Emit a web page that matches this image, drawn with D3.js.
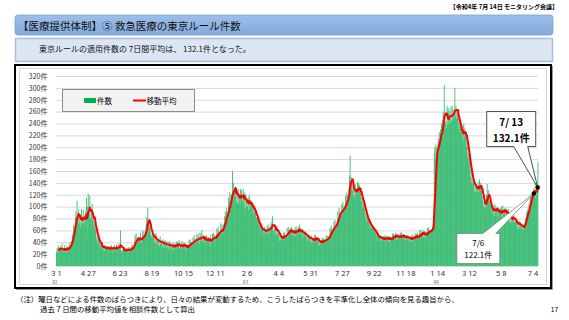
<!DOCTYPE html>
<html>
<head>
<meta charset="utf-8">
<script src="https://cdn.jsdelivr.net/npm/d3@7"></script>
<style>
body { margin: 0; background: #fff; }
svg { display: block; font-family: "Noto Sans CJK JP", "Noto Sans", sans-serif; }
</style>
</head>
<body>
<svg id="chart" width="569" height="320"></svg>
<script>
// daily Tokyo-rule cases, one row per week, from 2020-03-01 to 2022-07-13
var counts = [
  24, 30, 22, 35, 26, 31, 28,
  33, 21, 27, 38, 25, 23, 29,
  27, 35, 24, 30, 22, 34, 31,
  30, 26, 38, 28, 35, 41, 40,
  45, 52, 58, 70, 61, 66, 82,
  92, 78, 110, 85, 70, 95, 72,
  88, 65, 74, 96, 79, 70, 95,
  72, 85, 68, 92, 76, 115, 52,
  100, 122, 88, 95, 118, 80, 62,
  96, 105, 78, 70, 85, 66, 74,
  62, 55, 44, 50, 38, 52, 49,
  40, 28, 36, 31, 38, 26, 39,
  27, 33, 25, 36, 29, 31, 29,
  34, 26, 31, 24, 33, 28, 34,
  28, 35, 22, 30, 33, 27, 35,
  31, 25, 29, 36, 26, 34, 29,
  38, 30, 27, 60, 27, 22, 27,
  25, 31, 22, 29, 26, 30, 26,
  28, 23, 30, 25, 32, 24, 27,
  26, 33, 29, 36, 28, 34, 31,
  40, 52, 38, 55, 44, 39, 47,
  50, 42, 48, 38, 56, 41, 40,
  48, 60, 45, 58, 52, 50, 58,
  70, 82, 75, 98, 68, 80, 66,
  62, 55, 48, 52, 58, 50, 53,
  52, 40, 47, 36, 55, 41, 44,
  46, 35, 44, 33, 50, 38, 41,
  42, 31, 45, 34, 40, 30, 44,
  40, 30, 42, 31, 38, 29, 42,
  38, 28, 40, 30, 36, 27, 39,
  30, 39, 27, 37, 33, 41, 31,
  41, 29, 38, 44, 28, 33, 32,
  31, 42, 28, 39, 33, 40, 32,
  37, 26, 35, 28, 36, 27, 35,
  44, 31, 45, 33, 40, 34, 39,
  48, 36, 52, 38, 46, 37, 44,
  54, 39, 51, 41, 56, 37, 44,
  56, 42, 60, 40, 52, 45, 48,
  37, 50, 39, 52, 35, 46, 49,
  48, 36, 47, 34, 53, 39, 44,
  54, 41, 56, 40, 52, 43, 50,
  48, 63, 46, 66, 52, 58, 52,
  56, 72, 54, 70, 60, 52, 70,
  70, 84, 92, 74, 98, 80, 83,
  92, 115, 98, 125, 100, 118, 108,
  122, 160, 112, 140, 125, 118, 133,
  132, 106, 125, 108, 130, 104, 121,
  110, 130, 104, 128, 116, 108, 130,
  118, 98, 124, 96, 120, 102, 112,
  100, 116, 94, 120, 96, 112, 104,
  108, 88, 104, 86, 102, 90, 101,
  92, 76, 82, 68, 86, 72, 77,
  70, 56, 68, 54, 72, 58, 63,
  64, 52, 66, 54, 62, 53, 62,
  68, 54, 70, 56, 66, 55, 65,
  72, 62, 78, 84, 60, 58, 69,
  66, 52, 64, 55, 68, 53, 62,
  54, 42, 52, 43, 50, 44, 51,
  45, 56, 44, 57, 48, 52, 48,
  52, 64, 50, 66, 55, 60, 59,
  64, 51, 66, 50, 62, 53, 60,
  52, 64, 50, 67, 54, 62, 57,
  66, 53, 70, 52, 64, 55, 60,
  62, 48, 60, 50, 58, 49, 58,
  56, 43, 54, 42, 53, 44, 51,
  50, 39, 52, 40, 48, 39, 47,
  41, 52, 40, 53, 45, 48, 43,
  46, 36, 45, 35, 44, 37, 44,
  37, 48, 36, 47, 40, 45, 41,
  41, 52, 40, 51, 44, 50, 44,
  50, 64, 52, 68, 58, 60, 61,
  60, 75, 62, 78, 65, 70, 66,
  76, 92, 80, 98, 84, 90, 89,
  88, 104, 86, 108, 92, 100, 94,
  100, 118, 102, 124, 108, 120, 112,
  128, 152, 186, 140, 150, 132, 127,
  136, 118, 132, 116, 138, 120, 129,
  122, 142, 120, 140, 126, 136, 124,
  124, 108, 116, 98, 112, 102, 110,
  96, 80, 90, 74, 88, 78, 82,
  76, 64, 74, 62, 72, 64, 71,
  66, 54, 64, 55, 63, 56, 62,
  55, 44, 53, 43, 52, 45, 51,
  52, 42, 51, 41, 50, 43, 50,
  41, 51, 40, 52, 44, 49, 45,
  51, 41, 50, 40, 49, 42, 49,
  44, 54, 43, 55, 47, 52, 48,
  56, 44, 55, 45, 54, 46, 50,
  45, 56, 44, 57, 48, 53, 47,
  54, 43, 53, 44, 52, 45, 52,
  52, 42, 51, 41, 50, 43, 50,
  42, 52, 41, 53, 45, 50, 46,
  55, 45, 54, 44, 56, 46, 50,
  48, 60, 47, 61, 52, 57, 53,
  60, 48, 59, 47, 58, 49, 57,
  52, 64, 51, 65, 55, 61, 58,
  58, 62, 60, 66, 70, 78, 190,
  200, 180, 205, 190, 200, 185, 210,
  215, 225, 205, 230, 220, 240, 219,
  245, 260, 250, 305, 255, 240, 244,
  232, 270, 238, 266, 240, 262, 249,
  240, 268, 244, 270, 246, 264, 253,
  250, 300, 252, 270, 248, 264, 250,
  256, 230, 250, 224, 240, 218, 227,
  212, 236, 210, 240, 218, 232, 220,
  220, 200, 210, 185, 190, 175, 185,
  170, 150, 160, 140, 148, 138, 144,
  144, 126, 140, 124, 138, 126, 133,
  126, 142, 124, 146, 128, 140, 132,
  132, 112, 118, 98, 108, 100, 102,
  96, 110, 120, 138, 118, 128, 116,
  110, 92, 104, 88, 100, 90, 102,
  86, 102, 84, 104, 90, 98, 94,
  100, 84, 98, 82, 96, 86, 98,
  84, 100, 82, 102, 88, 96, 92,
  98, 82, 96, 80, 94, 84, 96,
  88, 74, 86, 72, 84, 74, 82,
  84, 90, 78, 74, 70, 76, 74,
  78, 64, 76, 62, 76, 66, 75,
  72, 62, 70, 60, 68, 62, 68,
  70, 75, 80, 85, 90, 95, 86,
  95, 105, 100, 112, 118, 120, 120,
  118, 125, 130, 124, 118, 150, 115,
  118, 125, 124, 175
];

// x tick labels (every 57th day) and the era marks under some of them
var tickLabels = ["3 1", "4 27", "6 23", "8 19", "10 15", "12 11", "2 6", "4 4",
                  "5 31", "7 27", "9 22", "11 18", "1 14", "3 12", "5 8", "7 4"];
var eraLabels = [{era: "R2", tick: "3 1"}, {era: "R3", tick: "2 6"}, {era: "R4", tick: "1 14"}];

var yTicks = [0, 20, 40, 60, 80, 100, 120, 140, 160, 180, 200, 220, 240, 260, 280, 300, 320];

// the two moving-average points called out on the right
var callouts = [{index: 857, date: "7/6"}, {index: 864, date: "7/ 13"}];

var svg = d3.select("#chart");

// page header
svg.append("text")
  .attr("x", 558).attr("y", 9)
  .attr("text-anchor", "end")
  .style("font-size", "6px").style("font-weight", "bold")
  .text("【令和4年 7月 14日 モニタリング会議】");

var grad = svg.append("defs").append("linearGradient")
  .attr("id", "titleGrad").attr("x1", 0).attr("y1", 0).attr("x2", 0).attr("y2", 1);
grad.append("stop").attr("offset", "0%").attr("stop-color", "#9dbfe8");
grad.append("stop").attr("offset", "100%").attr("stop-color", "#83aadb");

svg.append("rect")
  .attr("x", 15).attr("y", 15).attr("width", 538).attr("height", 20)
  .attr("rx", 3)
  .attr("fill", "url(#titleGrad)")
  .attr("stroke", "#7c9fcf").attr("stroke-width", 0.8);

svg.append("text")
  .attr("x", 18).attr("y", 29.5)
  .style("font-size", "10.5px").style("fill", "#111")
  .text("【医療提供体制】⑤ 救急医療の東京ルール件数");

svg.append("rect")
  .attr("x", 15.5).attr("y", 38.5).attr("width", 537).attr("height", 23)
  .attr("fill", "#dce6f2")
  .attr("stroke", "#a6bfdc").attr("stroke-width", 1.5);

svg.append("text")
  .attr("x", 39).attr("y", 51.5)
  .style("font-size", "8px").style("fill", "#111")
  .text("東京ルールの適用件数の 7日間平均は、 132.1件となった。");

// chart frame
svg.append("rect")
  .attr("x", 16).attr("y", 66).attr("width", 537).attr("height", 224)
  .attr("fill", "#9a9a9a");
svg.append("rect")
  .attr("x", 15).attr("y", 65).attr("width", 536).attr("height", 223)
  .attr("fill", "#fff").attr("stroke", "#000").attr("stroke-width", 2);
svg.append("rect")
  .attr("x", 19.5).attr("y", 68.5).attr("width", 527).attr("height", 216)
  .attr("fill", "#fff").attr("stroke", "#d9d9d9").attr("stroke-width", 1);

// scales
var x = d3.scaleBand()
  .domain(d3.range(counts.length))
  .range([56, 538])
  .padding(0);

var y = d3.scaleLinear()
  .domain([0, 320])
  .range([266, 76]);

var bw = x.bandwidth();

// y axis with gridlines
var yAxis = svg.append("g")
  .attr("transform", "translate(56,0)")
  .call(d3.axisLeft(y)
    .tickValues(yTicks)
    .tickSize(-(538 - 56))
    .tickPadding(8.5)
    .tickFormat(function(d) { return d + "件"; }));
yAxis.select(".domain").remove();
yAxis.selectAll(".tick line").attr("stroke", "#d9d9d9");
yAxis.selectAll(".tick text")
  .style("font-size", "7px").style("fill", "#333")
  .style("font-family", "\"Noto Sans CJK JP\", sans-serif");

// bars (slightly overlapped so the thin bars don't leave seams)
svg.append("g").selectAll("rect")
  .data(counts)
  .enter().append("rect")
  .attr("x", function(d, i) { return x(i); })
  .attr("width", bw + 0.35)
  .attr("y", function(d) { return y(d); })
  .attr("height", function(d) { return y(0) - y(d); })
  .attr("fill", "#3dbd75");

// 7-day trailing moving average
var avg = counts.map(function(d, i) {
  return d3.mean(counts.slice(Math.max(0, i - 6), i + 1));
});

var line = d3.line()
  .x(function(d) { return x(d.i) + bw / 2; })
  .y(function(d) { return y(d.v); });

var avgPoints = avg.map(function(v, i) { return {i: i, v: v}; }).filter(function(d) { return d.i >= 3; });

svg.append("path")
  .datum(avgPoints)
  .attr("d", line)
  .attr("fill", "none")
  .attr("stroke", "#ff0000")
  .attr("stroke-width", 2)
  .attr("stroke-linejoin", "round");

// x axis
var tickIdx = tickLabels.map(function(d, i) { return i * 57; });
var xAxis = svg.append("g")
  .attr("transform", "translate(0,266)")
  .call(d3.axisBottom(x)
    .tickValues(tickIdx)
    .tickSize(0)
    .tickPadding(5)
    .tickFormat(function(d, i) { return tickLabels[i]; }));
xAxis.select(".domain").remove();
xAxis.selectAll(".tick text")
  .style("font-size", "7.5px").style("fill", "#333")
  .style("font-family", "\"Noto Sans\", sans-serif")
  .attr("xml:space", "preserve");

eraLabels.forEach(function(e) {
  var i = tickIdx[tickLabels.indexOf(e.tick)];
  svg.append("text")
    .attr("x", x(i) + bw / 2 - 4).attr("y", 283.5)
    .style("font-size", "4.5px").style("fill", "#666")
    .text(e.era);
});

// legend
svg.append("rect")
  .attr("x", 62.5).attr("y", 89.5).attr("width", 132).attr("height", 22)
  .attr("fill", "#f2f2f2").attr("stroke", "#8c8c8c").attr("stroke-width", 1);
svg.append("rect")
  .attr("x", 84).attr("y", 98).attr("width", 12).attr("height", 5)
  .attr("fill", "#00b050");
svg.append("text")
  .attr("x", 97).attr("y", 103.5)
  .style("font-size", "7.5px")
  .text("件数");
svg.append("line")
  .attr("x1", 133).attr("x2", 146).attr("y1", 100.5).attr("y2", 100.5)
  .attr("stroke", "#ff0000").attr("stroke-width", 2);
svg.append("text")
  .attr("x", 146.5).attr("y", 103.5)
  .style("font-size", "7.5px")
  .text("移動平均");

// callouts
callouts.forEach(function(c, k) {
  var px = x(c.index) + bw / 2;
  var py = y(avg[c.index]);
  var label = d3.format(".1f")(avg[c.index]) + "件";
  var path, lines, bold, stroke, cx, fs, x0, x1, y0, y1;
  if (k === 1) {
    // box above-left, pointer down to the point
    x0 = px - 51; x1 = px - 2; y0 = py - 76; y1 = py - 41;
    path = "M" + x0 + "," + y0 + "H" + x1 + "V" + y1 + "H" + (px - 10) +
           "L" + px + "," + py + "L" + (px - 24) + "," + y1 + "H" + x0 + "Z";
    lines = [{t: c.date, y: y0 + 14}, {t: label, y: y0 + 30}];
    bold = true; stroke = "#222"; fs = "10px";
  } else {
    // box below-left, pointer up to the point
    x0 = px - 77; x1 = px - 34; y0 = py + 40; y1 = py + 70;
    path = "M" + x0 + "," + y0 + "H" + (px - 51) + "L" + px + "," + py +
           "L" + (px - 38) + "," + y0 + "H" + x1 + "V" + y1 + "H" + x0 + "Z";
    lines = [{t: c.date, y: y0 + 13}, {t: label, y: y0 + 25}];
    bold = false; stroke = "#7f7f7f"; fs = "8px";
  }
  cx = (x0 + x1) / 2;
  svg.append("path")
    .attr("d", path)
    .attr("fill", "#fff").attr("stroke", stroke).attr("stroke-width", 0.8);
  lines.forEach(function(l) {
    svg.append("text")
      .attr("x", cx).attr("y", l.y)
      .attr("text-anchor", "middle")
      .attr("xml:space", "preserve")
      .style("font-size", fs)
      .style("font-weight", bold ? "bold" : "normal")
      .text(l.t);
  });
  svg.append("circle")
    .attr("cx", px).attr("cy", py).attr("r", 2.2)
    .attr("fill", "#000");
});

// footnote and page number
svg.append("text")
  .attr("x", 16).attr("y", 302)
  .style("font-size", "7.4px")
  .text("（注）曜日などによる件数のばらつきにより、日々の結果が変動するため、こうしたばらつきを平準化し全体の傾向を見る趣旨から、");
svg.append("text")
  .attr("x", 40).attr("y", 312)
  .style("font-size", "7.4px")
  .text("過去７日間の移動平均値を相談件数として算出");
svg.append("text")
  .attr("x", 558).attr("y", 312)
  .attr("text-anchor", "end")
  .style("font-size", "6.5px")
  .text("17");
</script>
</body>
</html>
